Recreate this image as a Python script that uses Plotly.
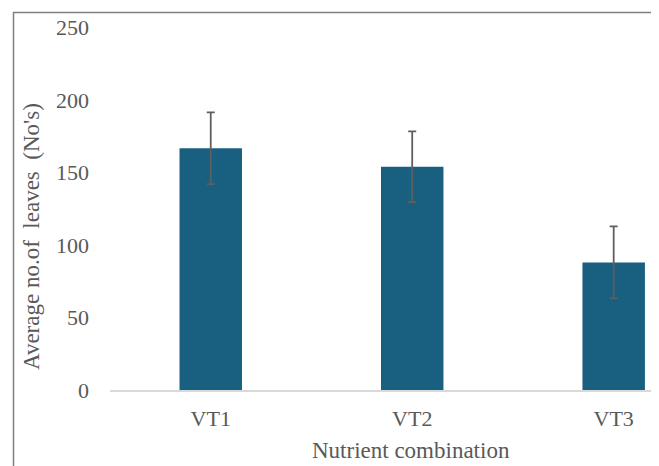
import plotly.graph_objects as go

categories = ["VT1", "VT2", "VT3"]
avg_leaves = [166.7, 154.0, 88.0]
err = [24.7, 24.4, 24.8]
y_ticks = [0, 50, 100, 150, 200, 250]

# page body has an 8px margin; size the figure to fit the window
OFF = 8
W, H = 659 - OFF, 466 - OFF
FONT = "Liberation Serif, Times New Roman, serif"
GRAY = "#595959"

fig = go.Figure()
fig.add_trace(go.Bar(
    x=categories, y=avg_leaves, width=0.31,
    marker=dict(color="#185f80", line=dict(width=0)),
    error_y=dict(type="data", array=err, visible=True, color="#5f5f5f",
                 thickness=1.8, width=4),
))

# convert reference-image pixel positions to paper fractions
px = lambda v: (v - OFF) / W
py = lambda v: 1 - (v - OFF) / H

fig.update_layout(
    width=W, height=H,
    margin=dict(l=0, r=0, t=0, b=0),
    paper_bgcolor="white", plot_bgcolor="white",
    showlegend=False,
    font=dict(family=FONT, color=GRAY),
    xaxis=dict(domain=[px(110), px(656)], range=[-0.5, 2.21],
               showgrid=False, zeroline=False, showline=True,
               linecolor="#d9d9d9", linewidth=1.5, ticks="",
               ticklabelstandoff=8,
               tickfont=dict(size=22, family=FONT, color=GRAY),
               automargin=False, fixedrange=True),
    yaxis=dict(domain=[py(390), py(27.5)], range=[0, 250],
               tickvals=y_ticks, showgrid=False, zeroline=False,
               showline=False, ticks="", ticklabelstandoff=20,
               tickfont=dict(size=22, family=FONT, color=GRAY),
               automargin=False, fixedrange=True),
    shapes=[
        dict(type="line", xref="paper", yref="paper", x0=px(13), x1=px(657),
             y0=py(12.5), y1=py(12.5), line=dict(color="#7f7f7f", width=1.5)),
        dict(type="line", xref="paper", yref="paper", x0=px(13.5), x1=px(13.5),
             y0=py(12), y1=py(470), line=dict(color="#7f7f7f", width=1.5)),
        dict(type="line", xref="paper", yref="paper", x0=px(657.5), x1=px(657.5),
             y0=py(12), y1=py(470), line=dict(color="#000000", width=2)),
    ],
    annotations=[
        dict(text="Nutrient combination", xref="paper", yref="paper",
             x=px(411), y=py(450), xanchor="center", yanchor="middle",
             showarrow=False, font=dict(size=23, family=FONT, color=GRAY)),
        dict(text="Average no.of\u00a0 leaves\u00a0 (No's)", xref="paper", yref="paper",
             x=px(31), y=py(237), xanchor="center", yanchor="middle", textangle=-90,
             showarrow=False, font=dict(size=23, family=FONT, color=GRAY)),
    ],
)

fig.write_html("out.html")
